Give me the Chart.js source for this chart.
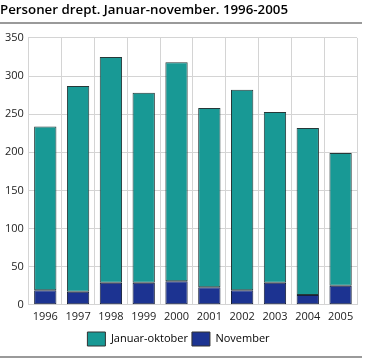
<!DOCTYPE html>
<html>
<head>
<meta charset="utf-8">
<script src="https://cdn.jsdelivr.net/npm/chart.js@4"></script>
<style>
  html, body { margin: 0; padding: 0; background: #fff; }
  #wrap { width: 365px; height: 359px; }
</style>
</head>
<body>
<div id="wrap"><canvas id="chart" width="365" height="359"></canvas></div>
<script>
// Personer drept, 1996-2005
const years = ["1996", "1997", "1998", "1999", "2000", "2001", "2002", "2003", "2004", "2005"];
const novemberValues = [19, 17, 29, 29, 31, 23, 19, 29, 13, 25];
const janOktValues = [215, 270, 296, 249, 287, 235, 263, 224, 219, 174];
const yTicks = [0, 50, 100, 150, 200, 250, 300, 350];

// grey rules under the title and at the bottom
const rules = {
  id: "rules",
  afterDraw(chart) {
    const ctx = chart.ctx;
    ctx.save();
    ctx.strokeStyle = "#9a9a9a";
    ctx.lineWidth = 2;
    ctx.beginPath();
    ctx.moveTo(0, 23);
    ctx.lineTo(362, 23);
    ctx.moveTo(0, 357);
    ctx.lineTo(362, 357);
    ctx.stroke();
    ctx.restore();
  }
};

new Chart(document.getElementById("chart").getContext("2d"), {
  type: "bar",
  data: {
    labels: years,
    datasets: [{
      label: "Januar-oktober",
      data: janOktValues,
      backgroundColor: "#189995",
      borderColor: "#263838",
      borderWidth: 1,
      borderSkipped: false,
      order: 1
    }, {
      label: "November",
      data: novemberValues,
      backgroundColor: "#1c3391",
      borderColor: "#18203a",
      borderWidth: 1,
      borderSkipped: false,
      order: 0
    }]
  },
  options: {
    responsive: false,
    animation: false,
    layout: { padding: { left: 0, right: 8, bottom: 3 } },
    datasets: { bar: { barPercentage: 0.68, categoryPercentage: 1 } },
    plugins: {
      title: {
        display: true,
        text: "Personer drept. Januar-november. 1996-2005",
        align: "start",
        color: "#000",
        font: { family: "Open Sans", size: 13.3, weight: "600" },
        padding: { top: 2, bottom: 20 }
      },
      legend: {
        position: "bottom",
        labels: {
          color: "#222",
          font: { family: "Open Sans", size: 11 },
          boxWidth: 18,
          boxHeight: 14,
          padding: 4,
          generateLabels: chart => chart.data.datasets.map((ds, i) => ({
            text: ds.label,
            fillStyle: ds.backgroundColor,
            strokeStyle: "#333",
            lineWidth: 1,
            datasetIndex: i
          }))
        }
      },
      tooltip: { enabled: false }
    },
    scales: {
      x: {
        stacked: true,
        grid: { color: "#d4d4d4", offset: true, drawTicks: false },
        border: { color: "#d4d4d4" },
        ticks: { color: "#222", font: { family: "Open Sans", size: 11 }, padding: 5 }
      },
      y: {
        stacked: true,
        min: 0,
        max: 350,
        afterBuildTicks: axis => { axis.ticks = yTicks.map(v => ({ value: v })); },
        grid: { color: "#d4d4d4", drawTicks: false },
        border: { color: "#d4d4d4" },
        ticks: { color: "#222", font: { family: "Open Sans", size: 11 }, padding: 5 }
      }
    }
  },
  plugins: [rules]
});
</script>
</body>
</html>
